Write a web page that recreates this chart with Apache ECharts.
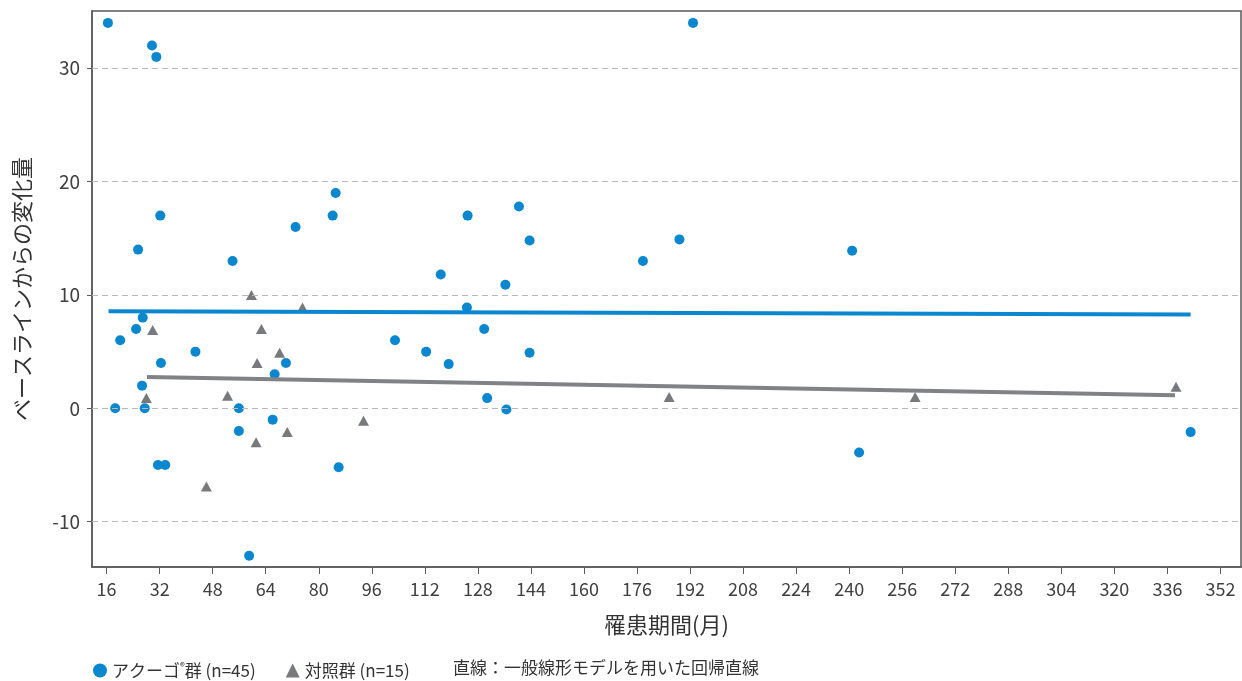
<!DOCTYPE html>
<html>
<head>
<meta charset="utf-8">
<script src="https://cdn.jsdelivr.net/npm/echarts@6/dist/echarts.min.js"></script>
<style>
  html, body { margin: 0; padding: 0; background: #fff; }
  #chart { width: 1242px; height: 681px; }
</style>
</head>
<body>
<div id="chart"></div>
<script>
// アクーゴ群 (n=45): 罹患期間(月) と ベースラインからの変化量
var acugoMonths = [16.4, 18.6, 20.1, 24.9, 25.5, 26.9, 26.7, 27.5, 29.7, 31.0,
  32.2, 32.4, 31.5, 33.7, 42.8, 54.0, 55.9, 55.9, 59.0, 66.1,
  66.7, 70.1, 73.0, 84.2, 85.1, 86.0, 103.0, 112.4, 116.8, 119.2,
  124.9, 124.7, 129.9, 130.8, 136.3, 136.6, 140.4, 143.6, 143.6, 177.8,
  188.8, 192.9, 240.9, 243.0, 343.0];
var acugoChange = [34, 0, 6, 7, 14, 8, 2, 0, 32, 31,
  17, 4, -5, -5, 5, 13, 0, -2, -13, -1,
  3, 4, 16, 17, 19, -5.2, 6, 5, 11.8, 3.9,
  17, 8.9, 7, 0.9, 10.9, -0.1, 17.8, 14.8, 4.9, 13,
  14.9, 34, 13.9, -3.9, -2.1];

// 対照群 (n=15)
var controlMonths = [28.0, 29.9, 46.1, 52.5, 59.7, 61.1, 61.4, 62.7, 68.2, 70.5,
  75.1, 93.5, 185.7, 259.9, 338.6];
var controlChange = [0.9, 6.9, -6.9, 1.1, 10, -3, 4, 7, 4.9, -2.1,
  8.9, -1.1, 1, 1, 1.9];

// 回帰直線の両端
var acugoFitMonths = [16.6, 343];
var acugoFitChange = [8.57, 8.27];
var controlFitMonths = [28.2, 338.3];
var controlFitChange = [2.76, 1.15];

var xTicks = [16, 32, 48, 64, 80, 96, 112, 128, 144, 160, 176, 192, 208, 224, 240, 256, 272, 288, 304, 320, 336, 352];
var yTicks = [-10, 0, 10, 20, 30];

function pairs(xs, ys) {
  var out = [];
  for (var i = 0; i < xs.length; i++) {
    out.push([xs[i], ys[i]]);
  }
  return out;
}

var blue = '#0a87cf';
var grayMark = '#78797c';
var grayLine = '#818285';
var font = '"Noto Sans CJK JP", "Noto Sans", sans-serif';

var myChart = echarts.init(document.getElementById('chart'));

var option = {
  animation: false,
  textStyle: { fontFamily: font },
  grid: {
    left: 92,
    top: 11,
    right: 1,
    bottom: 114,
    show: true,
    borderColor: '#5a5a5a',
    borderWidth: 1.5,
    outerBoundsMode: 'none'
  },
  legend: {
    left: 88,
    top: 656,
    itemWidth: 14,
    itemHeight: 14,
    itemGap: 30,
    textStyle: {
      fontFamily: font,
      fontSize: 17,
      color: '#333',
      rich: {
        n: { fontSize: 17, fontFamily: font, color: '#333' },
        sup: { fontSize: 10, verticalAlign: 'top', padding: [0, 0, 9, 0], fontFamily: font, color: '#333' }
      }
    },
    data: [
      { name: 'アクーゴ群', icon: 'circle', itemStyle: { color: blue } },
      { name: '対照群', icon: 'triangle', itemStyle: { color: grayMark } }
    ],
    formatter: function (name) {
      if (name === 'アクーゴ群') return '{n|アクーゴ}{sup|®}{n|群 (n=45)}';
      return '{n|対照群 (n=15)}';
    }
  },
  graphic: [
    {
      type: 'text',
      left: 453,
      top: 659,
      style: {
        text: '直線：一般線形モデルを用いた回帰直線',
        fontFamily: font,
        fontSize: 17,
        fill: '#333'
      }
    }
  ],
  xAxis: {
    type: 'value',
    min: 11.6,
    max: 358.2,
    name: '罹患期間(月)',
    nameLocation: 'middle',
    nameGap: 47,
    nameTextStyle: { fontFamily: font, fontSize: 22, color: '#333' },
    axisLine: { show: true, onZero: false, lineStyle: { color: '#5a5a5a', width: 1.5 } },
    axisTick: { show: true, length: 7, lineStyle: { color: '#5a5a5a' }, customValues: xTicks },
    axisLabel: { fontFamily: font, fontSize: 18, color: '#404040', margin: 13, customValues: xTicks },
    splitLine: { show: false }
  },
  yAxis: {
    type: 'value',
    min: -14,
    max: 35.05,
    name: 'ベースラインからの変化量',
    nameLocation: 'middle',
    nameGap: 59,
    nameTextStyle: { fontFamily: font, fontSize: 22, color: '#333' },
    axisLine: { show: true, onZero: false, lineStyle: { color: '#5a5a5a', width: 1.5 } },
    axisTick: { show: true, length: 5, lineStyle: { color: '#5a5a5a' }, customValues: yTicks },
    axisLabel: { fontFamily: font, fontSize: 19, color: '#404040', margin: 12, customValues: yTicks },
    splitLine: { show: false }
  },
  series: [
    {
      name: 'gridlines',
      type: 'line',
      data: [],
      z: 1,
      markLine: {
        silent: true,
        symbol: 'none',
        label: { show: false },
        lineStyle: { color: '#b8b8b8', type: [6, 4], width: 1 },
        data: yTicks.map(function (v) { return { yAxis: v }; })
      }
    },
    {
      name: 'アクーゴ群',
      type: 'scatter',
      z: 3,
      symbol: 'circle',
      symbolSize: 10,
      itemStyle: { color: blue, opacity: 1 },
      data: pairs(acugoMonths, acugoChange)
    },
    {
      name: '対照群',
      type: 'scatter',
      z: 3,
      symbol: 'triangle',
      symbolSize: [11, 10],
      itemStyle: { color: grayMark, opacity: 1 },
      data: pairs(controlMonths, controlChange)
    },
    {
      name: 'アクーゴ群 回帰直線',
      type: 'line',
      z: 4,
      symbol: 'none',
      lineStyle: { color: blue, width: 4 },
      data: pairs(acugoFitMonths, acugoFitChange)
    },
    {
      name: '対照群 回帰直線',
      type: 'line',
      z: 4,
      symbol: 'none',
      lineStyle: { color: grayLine, width: 4 },
      data: pairs(controlFitMonths, controlFitChange)
    }
  ]
};

option && myChart.setOption(option);
</script>
</body>
</html>
